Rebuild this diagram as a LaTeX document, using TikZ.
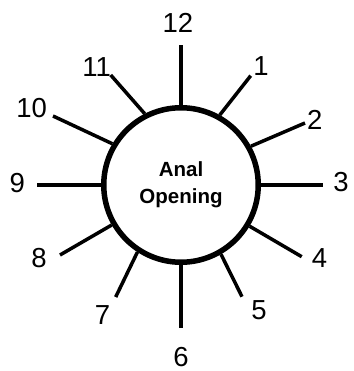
\documentclass[tikz,border=0pt]{standalone}
\usepackage{fontspec}
\setmainfont{Liberation Sans}
\usepackage{tikz}

\begin{document}
\begin{tikzpicture}[x=1pt, y=1pt,
  ring/.style={draw, circle, line width=5.5pt, minimum size=154.5pt, inner sep=0pt, align=center,
    font=\fontsize{20.5}{27}\selectfont\bfseries},
  spoke/.style={line width=3.5pt},
  hour/.style={inner sep=0pt, font=\fontsize{27.5}{30}\selectfont}
]
  \useasboundingbox (-181,-186) rectangle (172,185);

  \node[ring] (ring) at (0,0) {Anal\\Opening};

  \coordinate (e12) at (0,140);
  \coordinate (e1)  at (69.7,109.3);
  \coordinate (e2)  at (124,62);
  \coordinate (e3)  at (142,0);
  \coordinate (e4)  at (120.7,-71.7);
  \coordinate (e5)  at (61,-111.7);
  \coordinate (e6)  at (0,-143);
  \coordinate (e7)  at (-65.3,-112);
  \coordinate (e8)  at (-121,-70);
  \coordinate (e9)  at (-144,0);
  \coordinate (e10) at (-128,69);
  \coordinate (e11) at (-70.3,110);

  \node[hour] (h12) at (-3,162.5)    {12};
  \node[hour] (h1)  at (80,119)      {1};
  \node[hour] (h2)  at (133.7,65)    {2};
  \node[hour] (h3)  at (160,3.3)     {3};
  \node[hour] (h4)  at (138.5,-73)   {4};
  \node[hour] (h5)  at (78,-125)     {5};
  \node[hour] (h6)  at (0,-171.7)    {6};
  \node[hour] (h7)  at (-78.5,-130)  {7};
  \node[hour] (h8)  at (-142,-73)    {8};
  \node[hour] (h9)  at (-163.8,1.7)  {9};
  \node[hour] (h10) at (-149.3,77.2) {10};
  \node[hour] (h11) at (-84.3,118.3) {11};

  \draw[spoke] (ring.90)   -- (e12);
  \draw[spoke] (ring.61)   -- (e1);
  \draw[spoke] (ring.29)   -- (e2);
  \draw[spoke] (ring.0)    -- (e3);
  \draw[spoke] (ring.-31)  -- (e4);
  \draw[spoke] (ring.-60)  -- (e5);
  \draw[spoke] (ring.-90)  -- (e6);
  \draw[spoke] (ring.-123) -- (e7);
  \draw[spoke] (ring.-150) -- (e8);
  \draw[spoke] (ring.180)  -- (e9);
  \draw[spoke] (ring.149)  -- (e10);
  \draw[spoke] (ring.117)  -- (e11);
\end{tikzpicture}
\end{document}
